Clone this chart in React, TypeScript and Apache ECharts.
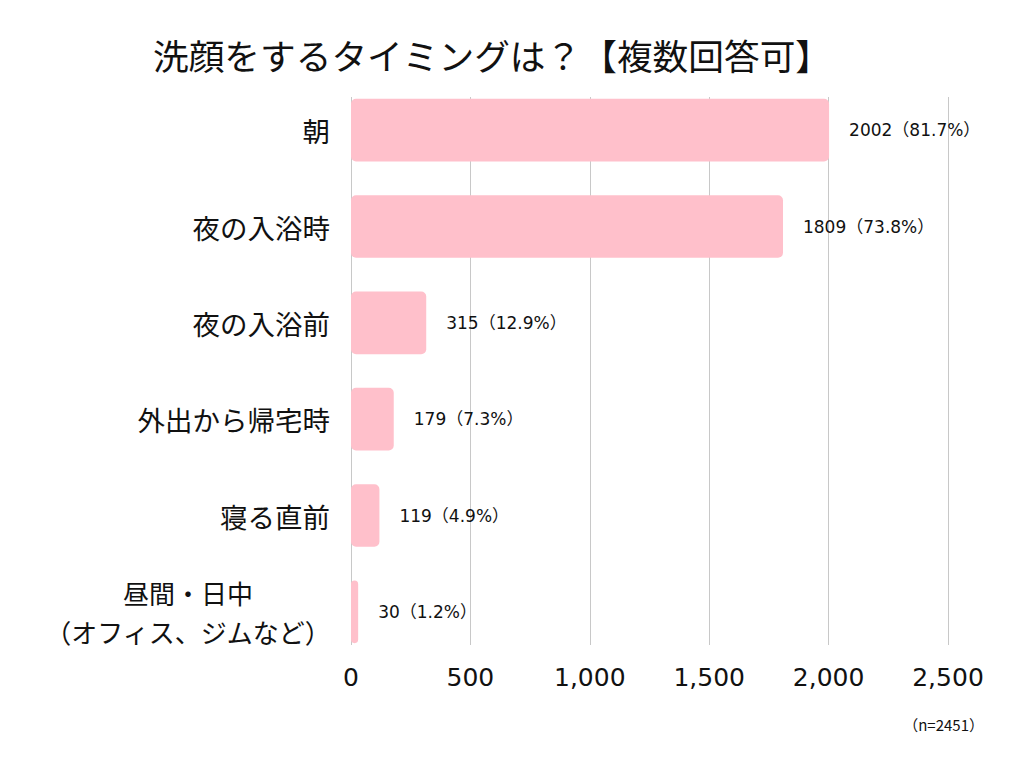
import React, { useEffect, useRef } from "react";
import * as echarts from "echarts";

const categories = [
  "朝",
  "夜の入浴時",
  "夜の入浴前",
  "外出から帰宅時",
  "寝る直前",
  "昼間・日中\n（オフィス、ジムなど）",
];
const counts = [2002, 1809, 315, 179, 119, 30];
const percents = ["81.7", "73.8", "12.9", "7.3", "4.9", "1.2"];
const xTicks = [0, 500, 1000, 1500, 2000, 2500];
const titleText = "洗顔をするタイミングは？【複数回答可】";
const noteText = "（n=2451）";

const numFont = "'DejaVu Sans', 'Noto Sans CJK JP', sans-serif";
const jpFont = "'Noto Sans CJK JP', 'Noto Sans', sans-serif";

export default function App() {
  const ref = useRef<HTMLDivElement>(null);
  useEffect(() => {
    if (!ref.current) return;
    const chart = echarts.init(ref.current, null, { renderer: "svg" });
    const xMax = xTicks[xTicks.length - 1];
    chart.setOption({
      animation: false,
      backgroundColor: "#ffffff",
      title: {
        text: titleText,
        left: 148,
        top: 32,
        textStyle: { fontFamily: jpFont, fontSize: 35.7, fontWeight: "normal", color: "#111" },
      },
      grid: [
        { left: 351, right: 76, top: 82, bottom: 108, containLabel: false },
        { left: 351, right: 76, top: 97, bottom: 123, containLabel: false },
      ],
      xAxis: [
        {
          type: "value",
          gridIndex: 0,
          min: 0,
          max: xMax,
          interval: 500,
          axisLine: { show: false },
          axisTick: { show: false },
          splitLine: { show: false },
          axisLabel: {
            margin: 5,
            fontFamily: numFont,
            fontSize: 25,
            color: "#111",
            formatter: (v: number) => v.toLocaleString("en-US"),
          },
        },
        {
          type: "value",
          gridIndex: 1,
          min: 0,
          max: xMax,
          interval: 500,
          axisLine: { show: false },
          axisTick: { show: false },
          axisLabel: { show: false },
          splitLine: { show: true, lineStyle: { color: "#c8c8c8", width: 1 } },
        },
      ],
      yAxis: [
        {
          type: "category",
          gridIndex: 0,
          data: categories,
          inverse: true,
          axisLine: { show: false },
          axisTick: { show: false },
          axisLabel: {
            margin: 21,
            fontFamily: jpFont,
            color: "#111",
            align: "right",
            formatter: (v: string) =>
              v.indexOf("\n") >= 0
                ? v.split("\n").map((s) => `{s|${s}}`).join("\n")
                : `{b|${v}}`,
            rich: {
              b: { fontFamily: jpFont, fontSize: 27.5, color: "#111" },
              s: {
                fontFamily: jpFont,
                fontSize: 26,
                color: "#111",
                lineHeight: 39,
                width: 284,
                align: "center",
              },
            },
          },
        },
        {
          type: "category",
          gridIndex: 1,
          data: categories,
          inverse: true,
          show: false,
        },
      ],
      series: [
        {
          type: "bar",
          xAxisIndex: 0,
          yAxisIndex: 0,
          data: counts,
          barWidth: "65%",
          itemStyle: { color: "#FFC0CB", borderRadius: 5 },
          z: 3,
          label: {
            show: true,
            position: "right",
            distance: 20,
            fontFamily: numFont,
            fontSize: 17,
            color: "#111",
            formatter: (p: any) => `${counts[p.dataIndex]}（${percents[p.dataIndex]}%）`,
          },
        },
      ],
      graphic: [
        {
          type: "text",
          right: 40,
          top: 717,
          style: { text: noteText, fontFamily: jpFont, fontSize: 15, fill: "#111" },
        },
      ],
    });
    return () => chart.dispose();
  }, []);
  return (
    <div
      ref={ref}
      style={{ position: "fixed", left: 0, top: 0, width: 1024, height: 768 }}
    />
  );
}
